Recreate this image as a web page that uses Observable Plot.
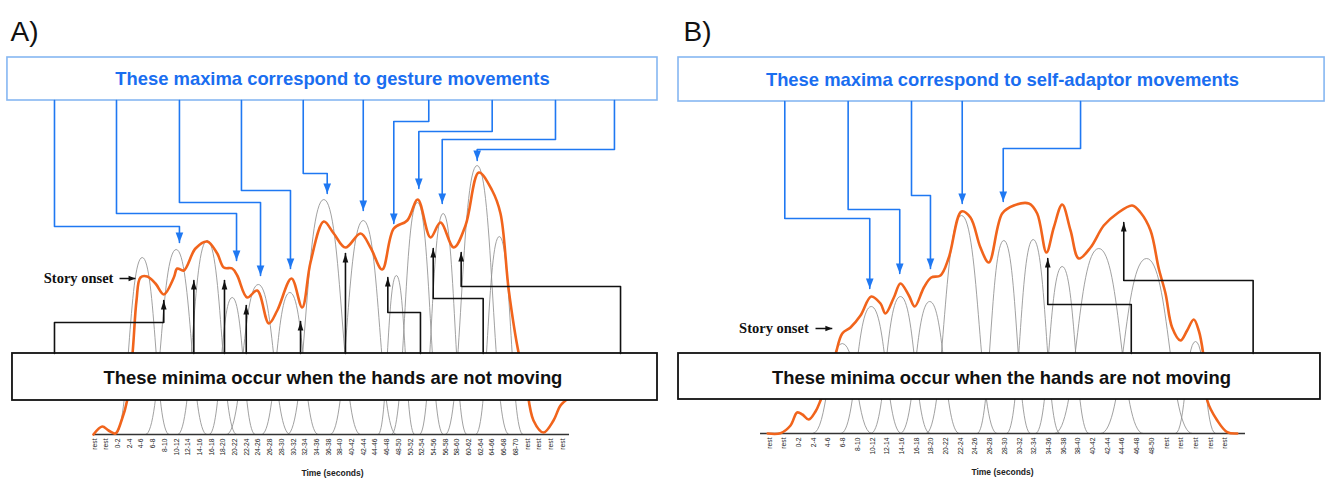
<!DOCTYPE html>
<html><head><meta charset="utf-8">
<script src="https://cdn.jsdelivr.net/npm/d3@7"></script>
<script src="https://cdn.jsdelivr.net/npm/@observablehq/plot@0.6"></script>
<style>
html,body{margin:0;padding:0;background:#fff;}
#fig{display:flex;width:1329px;height:479px;overflow:hidden;}
#fig svg{overflow:visible;display:block;}
</style></head><body><div id="fig"></div>
<script>
// ---------- tick labels ----------
const tickLabelsA = ["rest","rest","0-2","2-4","4-6","6-8","8-10","10-12","12-14","14-16","16-18","18-20","20-22","22-24","24-26","26-28","28-30","30-32","32-34","34-36","36-38","38-40","40-42","42-44","44-46","46-48","48-50","50-52","52-54","54-56","56-58","58-60","60-62","62-64","64-66","66-68","68-70","rest","rest","rest","rest"];
const tickLabelsB = ["rest","rest","0-2","2-4","4-6","6-8","8-10","10-12","12-14","14-16","16-18","18-20","20-22","22-24","24-26","26-28","28-30","30-32","32-34","34-36","36-38","38-40","40-42","42-44","44-46","46-48","48-50","rest","rest","rest","rest","rest"];

// ---------- gray component curves: [bin centre, height, foot half-width] ----------
const bumpsA = [[4.08,177,2.28],[6.98,185,2.6],[9.63,194,2.5],[11.77,137,1.95],[14.0,150,2.7],[16.7,142,2.4],[19.6,235,3.1],[22.97,214,2.8],[25.8,159,1.54],[27.6,232,2.2],[29.8,221,2.0],[32.7,269,2.7],[34.6,198,2.0]];
const bumpsB = [[4.95,90,2.0],[6.92,127,2.05],[8.91,137,2.0],[10.9,132,2.0],[13.06,218,2.4],[15.94,193,1.8],[17.94,194,1.8],[19.91,167,1.8],[22.4,185,3.0],[25.65,175,3.1],[28.98,92,1.35]];

// ---------- orange summed curve: [bin, height] ----------
const orangeA = [[-0.09,0],[0.66,8],[1.2,4],[1.79,1],[2.31,14],[2.79,34],[3.25,81],[3.59,134],[3.93,157],[4.5,158],[5.21,151],[5.92,140],[6.78,157],[7.07,166],[7.63,164],[8.63,186],[9.63,193],[10.49,181],[11.05,167],[11.77,166],[12.2,159],[13.05,137],[13.91,144],[14.9,111],[15.62,124],[16.84,156],[17.75,127],[18.46,172],[19.6,213],[20.45,201],[21.45,187],[22.74,201],[23.59,187],[24.59,165],[25.58,206],[26.73,214],[27.63,235],[28.72,197],[29.57,212],[30.71,187],[31.71,209],[32.85,262],[33.99,244],[34.7,221],[35.41,144],[36.26,81],[36.84,54],[37.52,14],[38.38,2],[39.23,14],[39.83,29],[40.51,36]];
const orangeB = [[-0.12,0],[0.75,0.3],[1.43,8],[1.88,21],[2.24,19],[2.67,14],[3.13,22],[3.47,33],[4.01,55],[4.49,79],[4.95,100],[5.51,106],[6.19,118],[6.92,137],[7.55,130],[7.89,120],[8.46,136],[8.91,150],[9.48,138],[9.88,127],[10.5,146],[11.0,156],[11.63,158],[12.2,176],[13.06,222],[13.67,216],[14.35,186],[14.92,171],[15.83,220],[16.62,228],[17.64,230],[18.21,220],[18.84,181],[19.34,206],[19.91,229],[20.48,203],[21.04,175],[21.84,186],[22.74,208],[23.65,220],[24.67,228],[25.24,221],[25.92,203],[26.48,165],[26.94,140],[27.39,106],[27.96,93],[28.41,103],[28.86,114],[29.2,103],[29.5,80],[29.78,33],[30.46,13],[31.14,1.3],[31.82,0]];

// ---------- annotation connectors (bin, height) ----------
const blueLinksA = [
 [[-3.42,334],[-3.42,208],[7.26,208],[7.26,192]],
 [[1.88,334],[1.88,221],[12.14,221],[12.14,174]],
 [[7.26,334],[7.26,232],[14.19,232],[14.19,159]],
 [[12.56,334],[12.56,244],[16.75,244],[16.75,166]],
 [[17.84,334],[17.84,261],[19.89,261],[19.89,241]],
 [[22.97,334],[22.97,224]],
 [[28.57,334],[28.57,313],[25.58,313],[25.58,211]],
 [[33.99,334],[33.99,303],[27.72,303],[27.72,246]],
 [[39.4,334],[39.4,295],[29.72,295],[29.72,231]],
 [[44.44,334],[44.44,285],[32.71,285],[32.71,274]]
];
const blackLinksA = [
 [[-3.42,81],[-3.42,112],[5.92,112],[5.92,134]],
 [[8.49,81],[8.49,154]],
 [[11.11,81],[11.11,154]],
 [[12.97,81],[12.97,129]],
 [[17.61,81],[17.61,113]],
 [[21.45,81],[21.45,181]],
 [[27.86,81],[27.86,122],[25.07,122],[25.07,157]],
 [[33.22,81],[33.22,136],[28.95,136],[28.95,186]],
 [[44.96,81],[44.96,148],[31.34,148],[31.34,182]]
];
const blueLinksB = [
 [[1.04,332],[1.04,215],[6.82,215],[6.82,145]],
 [[5.35,332],[5.35,224],[8.86,224],[8.86,160]],
 [[9.66,332],[9.66,238],[10.95,238],[10.95,165]],
 [[13.11,332],[13.11,230]],
 [[21.16,332],[21.16,285],[15.9,285],[15.9,232]]
];
const blackLinksB = [
 [[24.61,80],[24.61,129],[18.93,129],[18.93,175]],
 [[32.9,80],[32.9,153],[24.1,153],[24.1,211]]
];

// ---------- texts ----------
const panelA = {label:"A)", maxText:"These maxima correspond to gesture movements", minText:"These minima occur when the hands are not moving", onset:"Story onset", axisTitle:"Time (seconds)"};
const panelB = {label:"B)", maxText:"These maxima correspond to self-adaptor movements", minText:"These minima occur when the hands are not moving", onset:"Story onset", axisTitle:"Time (seconds)"};

// ---------- arrowhead symbols (tip at the anchor) ----------
const headDown = {draw(c,s){const r=Math.sqrt(s/Math.PI);c.moveTo(0,0);c.lineTo(-0.85*r,-2.2*r);c.lineTo(0.85*r,-2.2*r);c.closePath();}};
const headUp = {draw(c,s){const r=Math.sqrt(s/Math.PI);c.moveTo(0,0);c.lineTo(-0.75*r,2.4*r);c.lineTo(0.75*r,2.4*r);c.closePath();}};
const headRight = {draw(c,s){const r=Math.sqrt(s/Math.PI);c.moveTo(0,0);c.lineTo(-2.3*r,-0.9*r);c.lineTo(-2.3*r,0.9*r);c.closePath();}};

const rows = paths => paths.flatMap((p,k)=>p.map(([x,y])=>({k,x,y})));
const tips = paths => paths.map(p=>({x:p[p.length-1][0], y:p[p.length-1][1]}));

const BLUE = "#1f78f2", BLUEBOX = "#86b7f2", BLUETEXT = "#1a6ef0", ORANGE = "#f1641c", GRAY = "#909090";
const SANS = "Liberation Sans, Arial, Helvetica, sans-serif";

function panel(o){
  const bumpRows = o.bumps.flatMap(([c,h,w],k)=>[{k,x:c-w,y:0},{k,x:c,y:h},{k,x:c+w,y:0}]);
  return Plot.plot({
    width:o.width, height:479, margin:0,
    x:{domain:[0,o.ticks.length-1], range:o.xRange, axis:null},
    y:{domain:[0,o.base], range:[o.base,0], axis:null},
    style:{overflow:"visible", background:"transparent"},
    marks:[
      Plot.line(bumpRows,{x:"x",y:"y",z:"k",curve:"bump-x",stroke:GRAY,strokeWidth:0.85}),
      Plot.ruleY([0],{x1:o.axisExt[0],x2:o.axisExt[1],stroke:"#333",strokeWidth:1.4}),
      Plot.line(o.orange,{x:d=>d[0],y:d=>d[1],curve:"catmull-rom",stroke:ORANGE,strokeWidth:2.6}),
      Plot.text(o.ticks,{x:(d,i)=>i,y:0,text:d=>d,rotate:-90,textAnchor:"end",lineAnchor:"middle",dy:4,fontSize:6.7,fontFamily:"Liberation Sans Narrow, Liberation Sans, Arial",fill:"#222"}),
      Plot.text([o.texts.axisTitle],{x:o.titleX,y:-39,text:d=>d,fontSize:8.5,fontWeight:"bold",fontFamily:SANS,fill:"#222"}),
      // blue box + connectors
      Plot.rect([o.blueBox],{x1:"x1",x2:"x2",y1:"y1",y2:"y2",fill:"white",stroke:BLUEBOX,strokeWidth:1.6}),
      Plot.text([o.texts.maxText],{x:o.blueBox.tx,y:o.blueBox.ty,text:d=>d,fontSize:18.4,fontWeight:"bold",fontFamily:SANS,fill:BLUETEXT}),
      Plot.line(rows(o.blue),{x:"x",y:"y",z:"k",stroke:BLUE,strokeWidth:1.6}),
      Plot.dot(tips(o.blue),{x:"x",y:"y",symbol:headDown,r:4.5,fill:BLUE}),
      // black box + connectors
      Plot.rect([o.blackBox],{x1:"x1",x2:"x2",y1:"y1",y2:"y2",fill:"white",stroke:"#111",strokeWidth:1.8}),
      Plot.text([o.texts.minText],{x:o.blackBox.tx,y:o.blackBox.ty,text:d=>d,fontSize:18.4,fontWeight:"bold",fontFamily:SANS,fill:"#111"}),
      Plot.line(rows(o.black),{x:"x",y:"y",z:"k",stroke:"#111",strokeWidth:1.6}),
      Plot.dot(tips(o.black),{x:"x",y:"y",symbol:headUp,r:3.8,fill:"#111"}),
      // story onset
      Plot.text([o.texts.onset],{x:o.onset.tx,y:o.onset.y,text:d=>d,textAnchor:"end",fontSize:14.5,fontWeight:"bold",fontFamily:"Liberation Serif, Times New Roman, serif",fill:"#111"}),
      Plot.link([o.onset],{x1:"a1",x2:"a2",y1:"y",y2:"y",stroke:"#111",strokeWidth:1.5}),
      Plot.dot([o.onset],{x:"a2",y:"y",symbol:headRight,r:3,fill:"#111"}),
      // panel letter
      Plot.text([o.texts.label],{x:o.letter[0],y:o.letter[1],text:d=>d,textAnchor:"start",lineAnchor:"bottom",fontSize:28,fontFamily:SANS,fill:"#111"})
    ]
  });
}

const fig = document.getElementById("fig");
fig.append(panel({
  width:664, base:434, ticks:tickLabelsA, xRange:[94,562], axisExt:[-0.09,40.6], titleX:20.34,
  bumps:bumpsA, orange:orangeA, blue:blueLinksA, black:blackLinksA, texts:panelA,
  blueBox:{x1:-7.44,x2:48.12,y1:334,y2:377,tx:20.34,ty:355},
  blackBox:{x1:-7.01,x2:48.12,y1:34,y2:81,tx:20.38,ty:56},
  onset:{tx:1.62,a1:2.14,a2:3.5,y:156},
  letter:[-7.18,394]
}));
fig.append(panel({
  width:665, base:433, ticks:tickLabelsB, xRange:[105,560.7], axisExt:[-0.61,32.38], titleX:15.85,
  bumps:bumpsB, orange:orangeB, blue:blueLinksB, black:blackLinksB, texts:panelB,
  blueBox:{x1:-6.19,x2:37.76,y1:332,y2:376,tx:15.85,ty:353},
  blackBox:{x1:-6.19,x2:37.48,y1:34,y2:80,tx:15.78,ty:55},
  onset:{tx:2.67,a1:3.13,a2:4.27,y:105},
  letter:[-5.85,393]
}));
</script>
</body></html>
